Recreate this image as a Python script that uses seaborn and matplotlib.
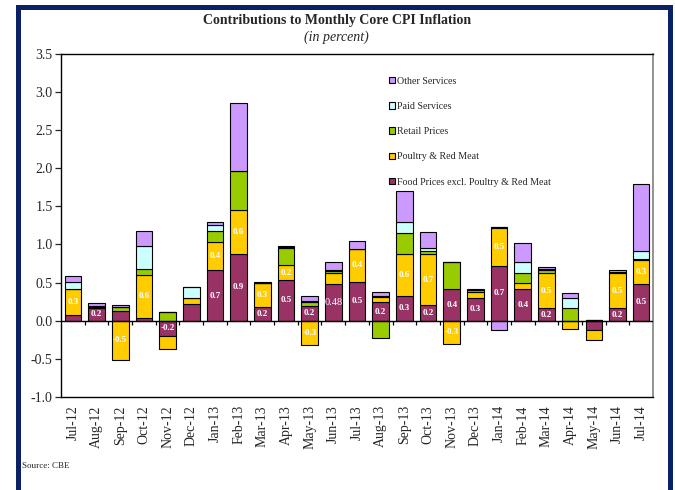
import matplotlib.pyplot as plt
import matplotlib.patches as mpatches
import numpy as np
import seaborn as sns

# ── data ─────────────────────────────────────────────────────────
months = ["Jul-12", "Aug-12", "Sep-12", "Oct-12", "Nov-12", "Dec-12", "Jan-13",
          "Feb-13", "Mar-13", "Apr-13", "May-13", "Jun-13", "Jul-13", "Aug-13",
          "Sep-13", "Oct-13", "Nov-13", "Dec-13", "Jan-14", "Feb-14", "Mar-14",
          "Apr-14", "May-14", "Jun-14", "Jul-14"]

food = [0.07, 0.17, 0.13, 0.04, -0.20, 0.22, 0.66, 0.88, 0.18, 0.53, 0.19, 0.48, 0.51,
        0.24, 0.32, 0.21, 0.41, 0.30, 0.72, 0.42, 0.16, 0.00, -0.12, 0.16, 0.48]
poultry = [0.34, 0.01, -0.52, 0.56, -0.17, 0.08, 0.37, 0.57, 0.31, 0.20, -0.32, 0.14, 0.43,
           0.07, 0.55, 0.66, -0.31, 0.08, 0.49, 0.08, 0.47, -0.11, -0.13, 0.46, 0.32]
retail = [0.01, 0.01, 0.05, 0.08, 0.11, 0.00, 0.14, 0.51, 0.00, 0.23, 0.05, 0.03, 0.00,
          -0.23, 0.28, 0.04, 0.36, 0.02, 0.02, 0.13, 0.03, 0.17, 0.01, 0.02, 0.01]
paid = [0.09, 0.00, 0.00, 0.30, 0.00, 0.14, 0.08, 0.00, 0.00, 0.01, 0.02, 0.01, 0.00,
        0.01, 0.15, 0.04, 0.00, 0.00, 0.00, 0.14, 0.02, 0.13, 0.00, 0.00, 0.10]
other = [0.08, 0.04, 0.03, 0.20, 0.00, 0.00, 0.05, 0.89, 0.02, 0.01, 0.06, 0.11, 0.10,
         0.06, 0.40, 0.21, 0.00, 0.01, -0.12, 0.25, 0.02, 0.06, 0.00, 0.03, 0.88]

food_labels = ["", "0.2", "", "", "-0.2", "", "0.7", "0.9", "0.2", "0.5", "0.2", "0.48", "0.5",
               "0.2", "0.3", "0.2", "0.4", "0.3", "0.7", "0.4", "0.2", "", "", "0.2", "0.5"]
poultry_labels = ["0.3", "", "-0.5", "0.6", "", "", "0.4", "0.6", "0.3", "0.2", "-0.3", "", "0.4",
                  "", "0.6", "0.7", "-0.3", "", "0.5", "", "0.5", "", "", "0.5", "0.3"]

series_names = ["Food Prices excl. Poultry & Red Meat", "Poultry & Red Meat",
                "Retail Prices", "Paid Services", "Other Services"]
series_values = [food, poultry, retail, paid, other]
series_labels = [food_labels, poultry_labels, None, None, None]

COLORS = ["#993366", "#FFCC00", "#99CC00", "#CCFFFF", "#CC99FF"]
NAVY = "#0a2265"

sns.set_theme(style="white")
plt.rcParams["font.family"] = ["Liberation Serif", "DejaVu Serif"]

fig = plt.figure(figsize=(6.75, 4.9), dpi=100, facecolor="white")
ax = fig.add_axes([0.0904, 0.190, 0.877, 0.700])

pos_cum = np.zeros(len(months))
neg_cum = np.zeros(len(months))

for name, vals, labels, color in zip(series_names, series_values, series_labels, COLORS):
    v = np.array(vals)
    bottom = np.where(v >= 0, pos_cum, neg_cum)
    sns.barplot(x=months, y=v, bottom=bottom, color=color, width=0.70,
                edgecolor="black", linewidth=0.8, saturation=1, errorbar=None,
                order=months, ax=ax)
    if labels is not None:
        for i, lab in enumerate(labels):
            if not lab:
                continue
            yc = bottom[i] + v[i] / 2
            if lab == "0.48":
                ax.text(i, yc, lab, ha="center", va="center", color="white",
                        fontsize=7.5)
            else:
                ax.text(i, yc, lab, ha="center", va="center", color="white",
                        fontsize=6.5, fontweight="bold")
    pos_cum = pos_cum + np.where(v >= 0, v, 0)
    neg_cum = neg_cum + np.where(v < 0, v, 0)

# zero line and category tick marks
ax.axhline(0, color="black", linewidth=1.0, zorder=5)
ax.vlines(np.arange(len(months) - 1) + 0.5, -0.06, 0, color="black",
          linewidth=0.9, zorder=5)

ax.set_ylim(-1.0, 3.5)
ax.set_xlim(-0.5, len(months) - 0.5)
ax.set_yticks(np.arange(-1.0, 3.51, 0.5))
ax.set_yticklabels([f"{t:.1f}" for t in np.arange(-1.0, 3.51, 0.5)], fontsize=10)
ax.set_xticks(range(len(months)))
ax.set_xticklabels(months, rotation=90, fontsize=10)
ax.tick_params(axis="x", length=0, pad=6)
ax.tick_params(axis="y", length=4, width=0.9, direction="out", left=True, pad=2)
ax.set_xlabel("")
ax.set_ylabel("")
ax.grid(False)

for side in ["left", "top", "bottom"]:
    ax.spines[side].set_color("black")
    ax.spines[side].set_linewidth(1.0)
ax.spines["right"].set_color("#808080")
ax.spines["right"].set_linewidth(1.2)

handles = [mpatches.Patch(facecolor=c, edgecolor="black", linewidth=0.8, label=n)
           for n, c in zip(series_names, COLORS)][::-1]
ax.legend(handles=handles, loc="upper left", bbox_to_anchor=(0.548, 0.945),
          frameon=False, fontsize=7.2, handlelength=0.55, handleheight=0.6,
          handletextpad=0.25, labelspacing=1.62, borderaxespad=0)

fig.text(0.499, 0.959, "Contributions to Monthly Core CPI Inflation",
         ha="center", va="center", fontsize=10, fontweight="bold")
fig.text(0.499, 0.923, "(in percent)", ha="center", va="center", fontsize=10,
         style="italic")
fig.text(0.032, 0.048, "Source: CBE", ha="left", va="center", fontsize=6.5)

frame = mpatches.Rectangle((0.026, -0.05), 0.967, 1.0367, transform=fig.transFigure,
                           fill=False, edgecolor=NAVY, linewidth=3.6, clip_on=False)
fig.patches.append(frame)

fig.savefig("out.png", dpi=100, facecolor="white")
